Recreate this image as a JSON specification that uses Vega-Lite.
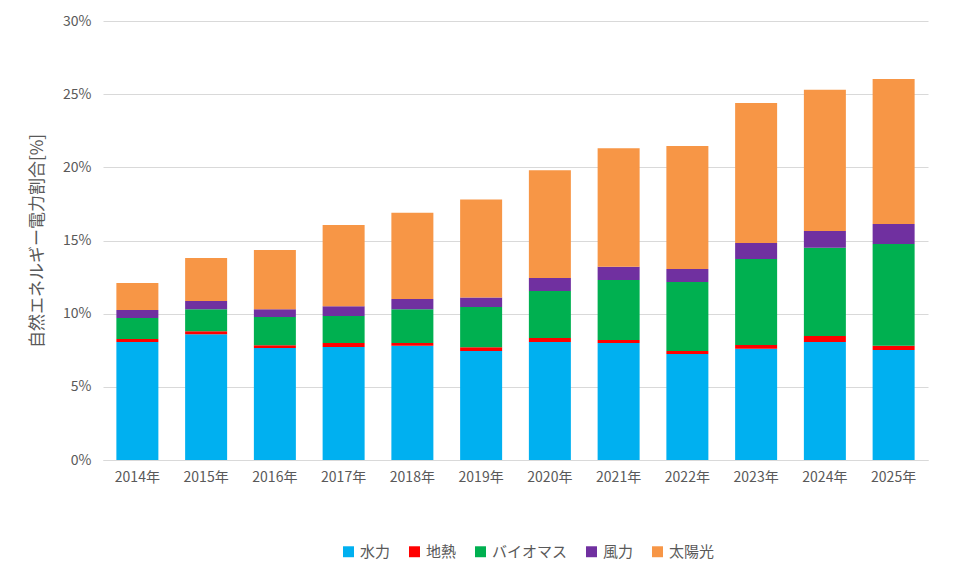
{
  "$schema": "https://vega.github.io/schema/vega-lite/v6.json",
  "width": 825,
  "height": 439,
  "padding": {"left": 28, "top": 14, "right": 20, "bottom": 10},
  "background": "white",
  "data": {
    "values": [
      {"year": "2014年", "水力": 0.0807, "地熱": 0.0020, "バイオマス": 0.0143, "風力": 0.0055, "太陽光": 0.0185},
      {"year": "2015年", "水力": 0.0860, "地熱": 0.0020, "バイオマス": 0.0150, "風力": 0.0057, "太陽光": 0.0293},
      {"year": "2016年", "水力": 0.0765, "地熱": 0.0020, "バイオマス": 0.0192, "風力": 0.0053, "太陽光": 0.0405},
      {"year": "2017年", "水力": 0.0772, "地熱": 0.0028, "バイオマス": 0.0184, "風力": 0.0066, "太陽光": 0.0556},
      {"year": "2018年", "水力": 0.0780, "地熱": 0.0020, "バイオマス": 0.0230, "風力": 0.0070, "太陽光": 0.0590},
      {"year": "2019年", "水力": 0.0745, "地熱": 0.0025, "バイオマス": 0.0275, "風力": 0.0065, "太陽光": 0.0670},
      {"year": "2020年", "水力": 0.0807, "地熱": 0.0027, "バイオマス": 0.0321, "風力": 0.0089, "太陽光": 0.0736},
      {"year": "2021年", "水力": 0.0800, "地熱": 0.0020, "バイオマス": 0.0410, "風力": 0.0090, "太陽光": 0.0810},
      {"year": "2022年", "水力": 0.0725, "地熱": 0.0020, "バイオマス": 0.0472, "風力": 0.0088, "太陽光": 0.0841},
      {"year": "2023年", "水力": 0.0760, "地熱": 0.0026, "バイオマス": 0.0588, "風力": 0.0109, "太陽光": 0.0957},
      {"year": "2024年", "水力": 0.0807, "地熱": 0.0041, "バイオマス": 0.0602, "風力": 0.0115, "太陽光": 0.0965},
      {"year": "2025年", "水力": 0.0752, "地熱": 0.0028, "バイオマス": 0.0696, "風力": 0.0137, "太陽光": 0.0991}
    ]
  },
  "transform": [
    {"fold": ["水力", "地熱", "バイオマス", "風力", "太陽光"], "as": ["source", "value"]},
    {"calculate": "indexof(['水力','地熱','バイオマス','風力','太陽光'], datum.source)", "as": "k"}
  ],
  "mark": {"type": "bar", "width": 42},
  "encoding": {
    "x": {
      "field": "year", "type": "nominal", "title": null,
      "axis": {"labelAngle": 0, "labelFontSize": 14, "labelColor": "#595959", "ticks": false, "domainColor": "#d9d9d9", "labelPadding": 10}
    },
    "y": {
      "field": "value", "type": "quantitative", "stack": "zero",
      "scale": {"domain": [0, 0.3]},
      "title": "自然エネルギー電力割合[%]",
      "axis": {"format": ".0%", "values": [0, 0.05, 0.1, 0.15, 0.2, 0.25, 0.3], "labelFontSize": 14, "labelColor": "#595959", "titleFontSize": 17, "titleColor": "#595959", "titleFontWeight": "normal", "gridColor": "#d9d9d9", "domain": false, "ticks": false, "labelPadding": 12, "titlePadding": 16}
    },
    "color": {
      "field": "source", "type": "nominal",
      "scale": {"domain": ["水力", "地熱", "バイオマス", "風力", "太陽光"], "range": ["#00B0F0", "#FF0000", "#00B050", "#7030A0", "#F79646"]},
      "legend": {"orient": "none", "legendX": 238, "legendY": 523, "direction": "horizontal", "title": null, "symbolType": "square", "symbolSize": 120, "labelFontSize": 15, "labelColor": "#595959", "columnPadding": 16}
    },
    "order": {"field": "k", "type": "quantitative"}
  },
  "config": {
    "font": "Noto Sans CJK JP",
    "view": {"stroke": null}
  }
}
